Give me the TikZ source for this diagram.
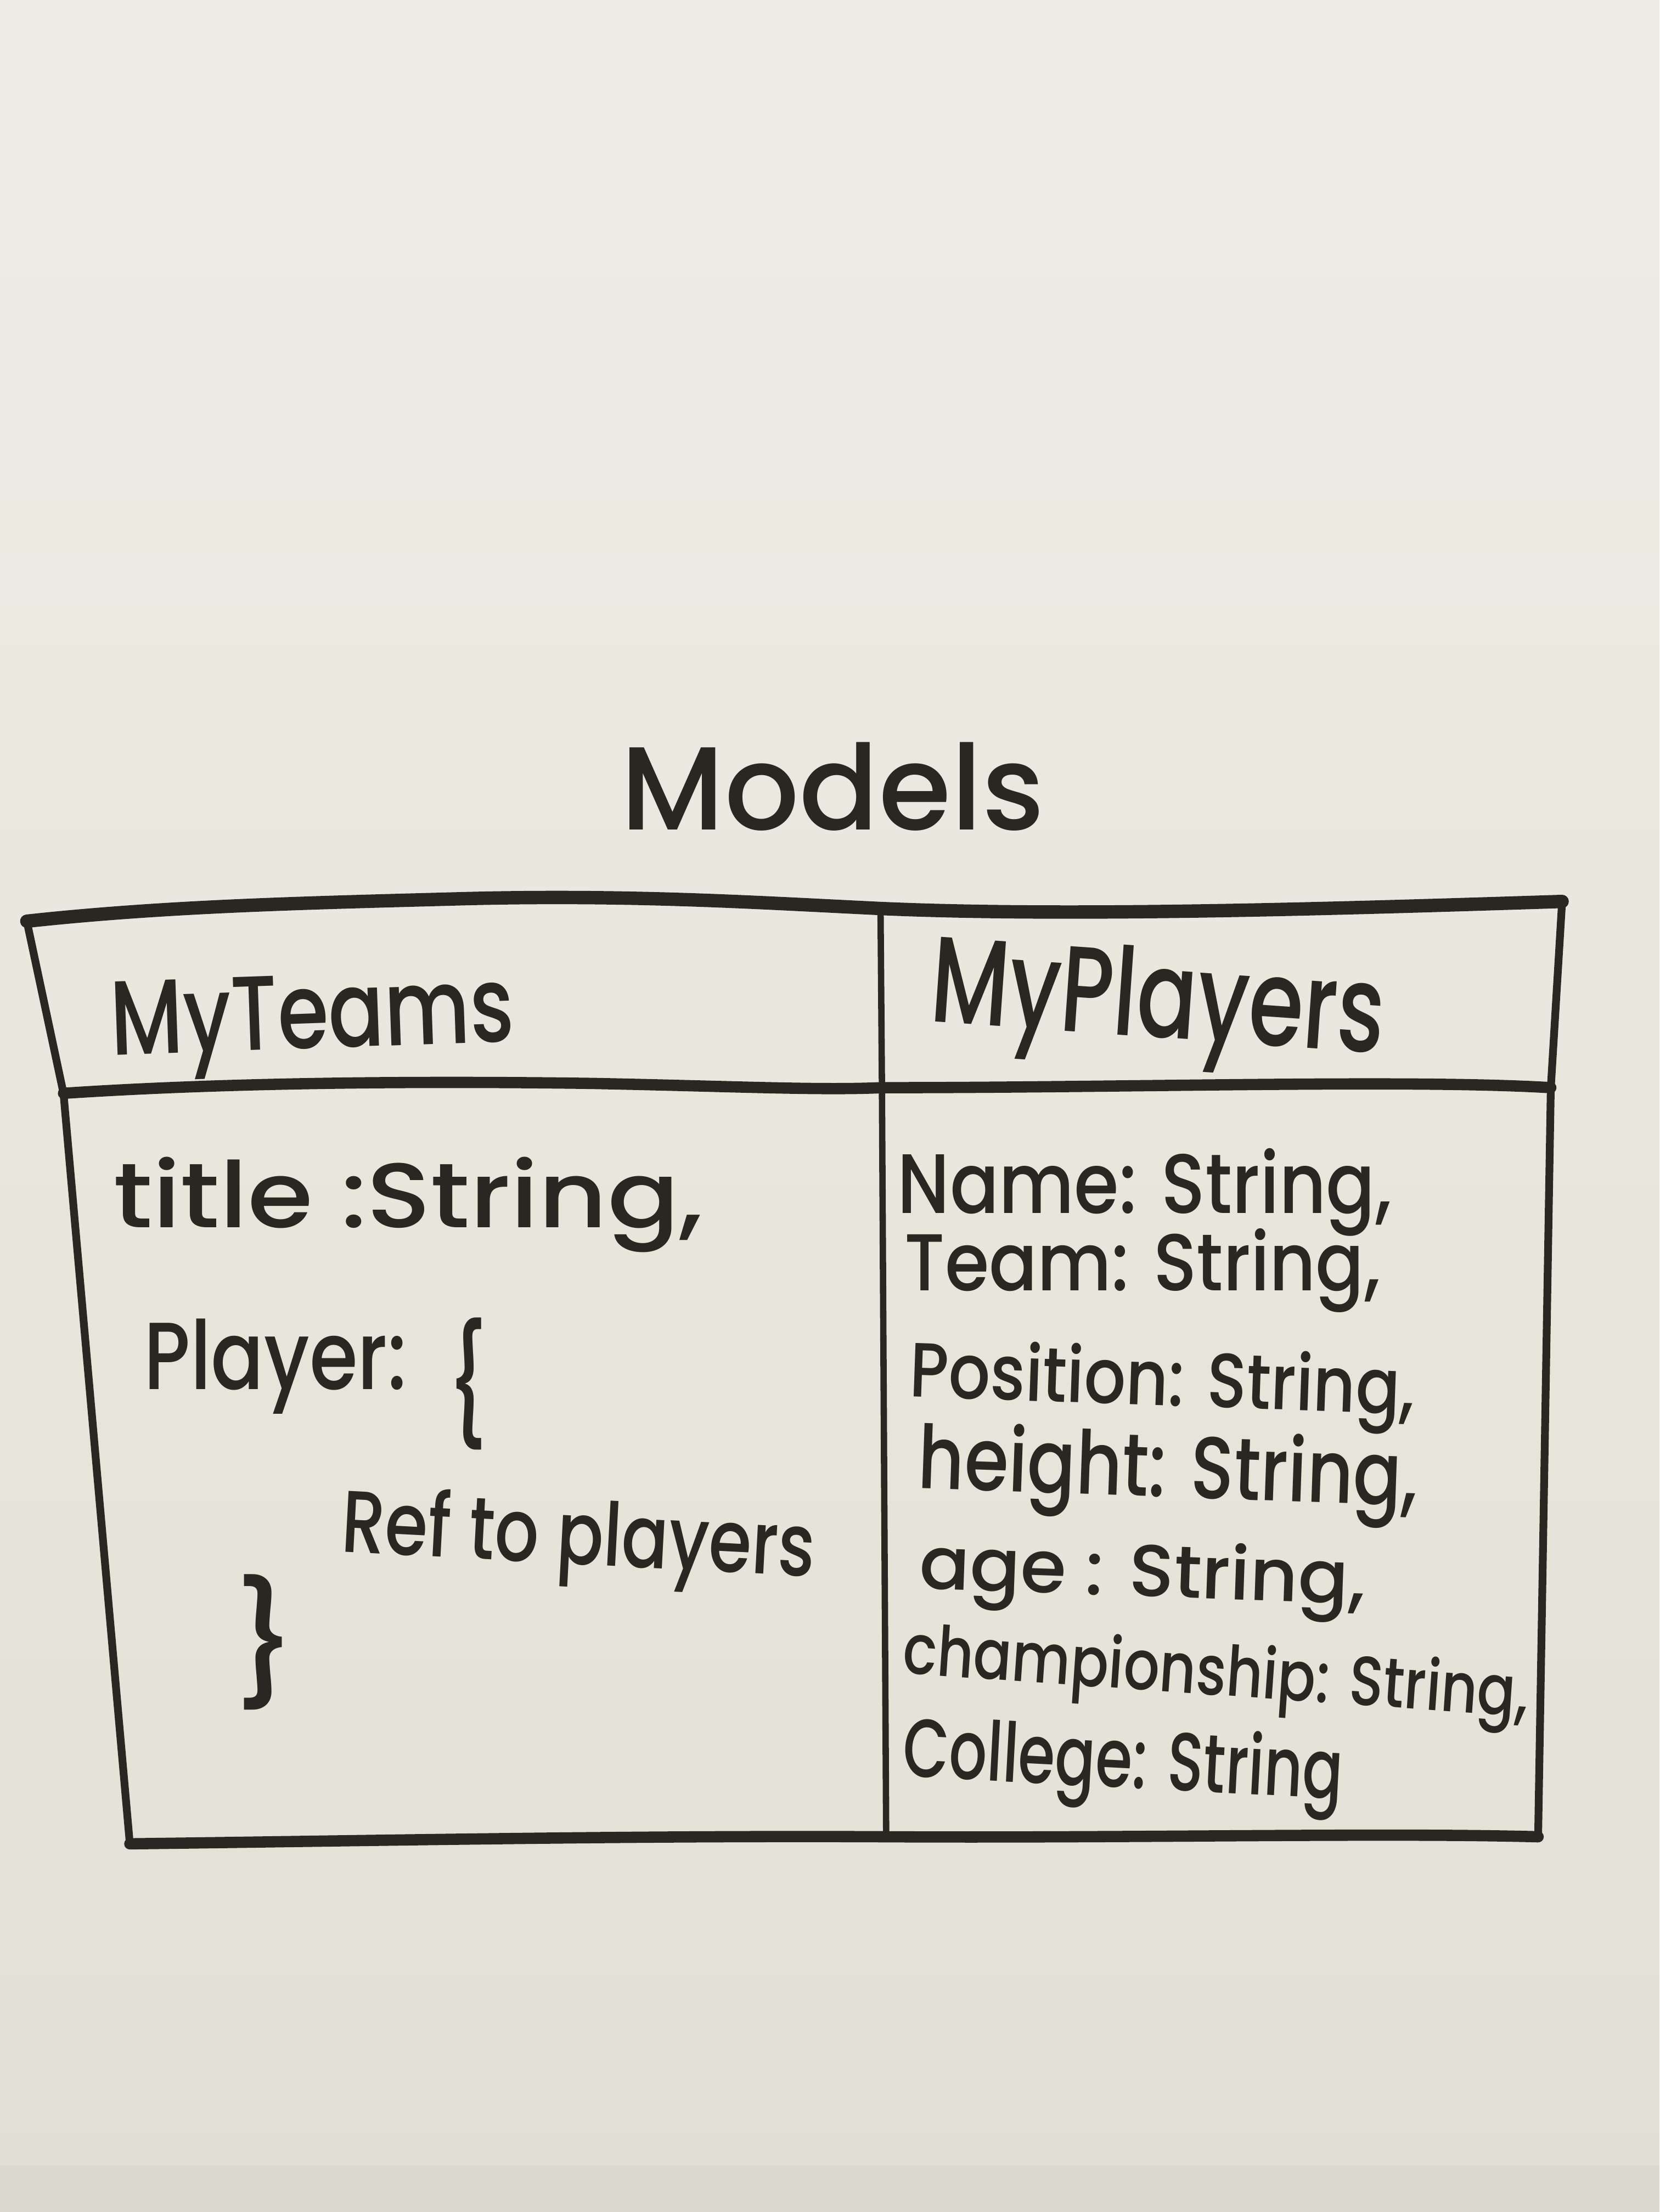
\documentclass[tikz,border=0pt]{standalone}
\usepackage{fontspec}
\setmainfont{Poppins}
\newfontfamily\markerfont{Poppins Medium}
\usepackage{graphicx}
\definecolor{inkc}{HTML}{2A2622}
\definecolor{boardtop}{HTML}{EEECE6}
\definecolor{boardmid}{HTML}{E9E6DC}
\definecolor{boardbot}{HTML}{E2DFD4}
% scale a handwritten line to a given width and letter height
\newcommand\hwfit[3]{\resizebox{#1pt}{#2pt}{#3}}
\begin{document}
\begin{tikzpicture}[x=1pt,y=-1pt,
  ink/.style={draw=inkc, line cap=round, line join=round},
  rule/.style={ink, line width=8pt},
  side/.style={ink, line width=5.5pt},
  hw/.style={inner sep=0pt, anchor=base west, text=inkc, font=\markerfont}]
  \useasboundingbox (0,0) rectangle (1176,1568);
  % whiteboard surface
  \fill[top color=boardtop, bottom color=boardbot, middle color=boardmid] (0,0) rectangle (1176,1568);
  \fill[boardbot!92!black, opacity=0.35] (0,1535) rectangle (1176,1568);

  % title
  \node[hw] (models) at (440,588) {\hwfit{300}{62}{Models}};

  % table frame
  \coordinate (tl) at (19,653);
  \coordinate (tr) at (1107,639);
  \coordinate (hl) at (45,775);
  \coordinate (hr) at (1099,771);
  \coordinate (bl) at (92,1307);
  \coordinate (br) at (1090,1302);
  \coordinate (dt) at (624,644);
  \coordinate (dh) at (625,771);
  \coordinate (db) at (628,1302);

  \draw[rule, line width=9.5pt] (tl) .. controls (120,642) and (220,640) .. (330,637)
        .. controls (450,634) and (540,640) .. (dt)
        .. controls (760,650) and (950,644) .. (tr);
  \draw[rule] (hl) .. controls (150,768) and (280,766) .. (420,768)
        .. controls (520,770) and (580,773) .. (dh)
        .. controls (800,771) and (1000,765) .. (hr);
  \draw[rule] (bl) .. controls (250,1305) and (450,1301) .. (db)
        .. controls (800,1303) and (980,1299) .. (br);
  \draw[side] (tl) -- (hl) -- (bl);
  \draw[side] (tr) -- (hr) -- (br);
  \draw[side, line width=4.5pt] (dt) -- (dh) -- (db);

  % headers
  \node[hw, rotate=2] (teams) at (79,748) {\hwfit{286}{52}{MyTeams}};
  \node[hw, rotate=-4] (players) at (658,724) {\hwfit{322}{64}{MyPlayers}};

  % MyTeams fields
  \node[hw] (title) at (80,870) {\hwfit{418}{50}{title :String,}};
  \node[hw] (player) at (102,985) {\hwfit{186}{50}{Player:}};
  \node[hw] (open) at (316,1012) {\hwfit{30}{78}{\{}};
  \node[hw, rotate=-3] (ref) at (241,1100) {\hwfit{336}{48}{Ref to players}};
  \node[hw] (close) at (165,1196) {\hwfit{46}{80}{\}}};

  % MyPlayers fields
  \node[hw] (name) at (636,860) {\hwfit{350}{46}{Name: String,}};
  \node[hw] (team) at (641,915) {\hwfit{337}{44}{Team: String,}};
  \node[hw, rotate=-2] (pos) at (644,990) {\hwfit{358}{42}{Position: String,}};
  \node[hw, rotate=-2] (height) at (650,1055) {\hwfit{354}{48}{height: String,}};
  \node[hw, rotate=-2] (age) at (651,1126) {\hwfit{316}{40}{age : String,}};
  \node[hw, rotate=-4] (champ) at (639,1186) {\hwfit{444}{38}{championship: String,}};
  \node[hw, rotate=-3] (college) at (639,1259) {\hwfit{312}{45}{College: String}};
\end{tikzpicture}
\end{document}
